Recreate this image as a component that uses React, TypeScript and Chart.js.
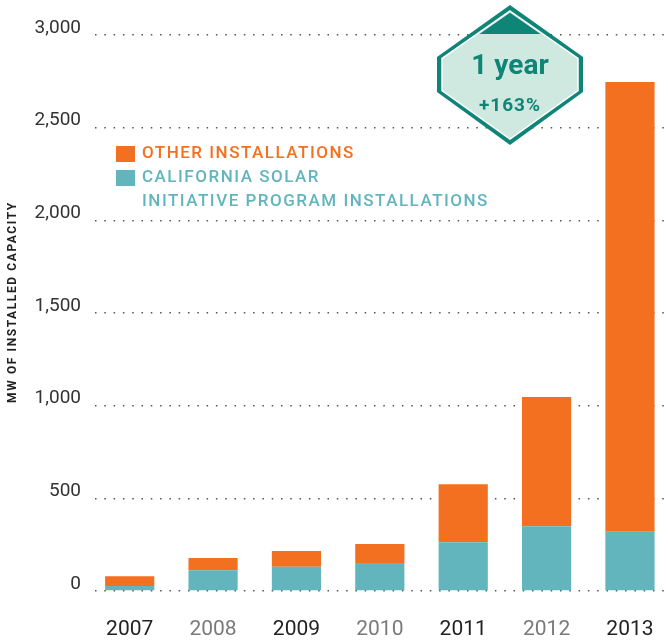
import React, { useEffect, useRef } from "react";
import { Chart, registerables } from "chart.js";

Chart.register(...registerables);

const years = ["2007", "2008", "2009", "2010", "2011", "2012", "2013"];
const csiValues = [27, 112, 131, 151, 263, 349, 320];
const otherValues = [53, 66, 85, 103, 313, 698, 2427];
const yTicks = [0, 500, 1000, 1500, 2000, 2500, 3000];
const otherLabel = ["OTHER INSTALLATIONS"];
const csiLabel = ["CALIFORNIA SOLAR", "INITIATIVE PROGRAM INSTALLATIONS"];
const yTitle = "MW OF INSTALLED CAPACITY";
const badgeTitle = "1 year";
const badgeValue = "+163%";

const ORANGE = "#f37021";
const TEAL = "#63b5bd";
const DARK_TEAL = "#0e8577";
const LIGHT_TEAL = "#cfe8e0";

const overlayPlugin = {
  id: "overlay",
  afterDraw(chart: any) {
    const ctx = chart.ctx as CanvasRenderingContext2D;
    // Y axis title
    ctx.save();
    ctx.translate(13, 302);
    ctx.rotate(-Math.PI / 2);
    ctx.font = "bold 12px Roboto";
    (ctx as any).letterSpacing = "1.6px";
    ctx.textAlign = "center";
    ctx.textBaseline = "middle";
    ctx.fillStyle = "#222";
    ctx.fillText(yTitle, 0, 0);
    ctx.restore();

    // Legend
    const ds = chart.data.datasets;
    const entries = [
      { color: ds[1].backgroundColor, lines: otherLabel, y: 146 },
      { color: ds[0].backgroundColor, lines: csiLabel, y: 170 },
    ];
    ctx.save();
    ctx.font = "500 17px Roboto";
    (ctx as any).letterSpacing = "1.5px";
    ctx.textAlign = "left";
    ctx.textBaseline = "middle";
    entries.forEach((e) => {
      ctx.fillStyle = e.color;
      ctx.fillRect(116, e.y, 19, 16);
      e.lines.forEach((line: string, i: number) => {
        ctx.fillText(line, 142, e.y + 8 + i * 24);
      });
    });
    ctx.restore();

    // Badge
    const cx = 510;
    const hex = (inset: number) => {
      const top = 5 + inset * 1.2;
      const bot = 145 - inset * 1.2;
      const l = 437 + inset;
      const r = 583 - inset;
      ctx.beginPath();
      ctx.moveTo(cx, top);
      ctx.lineTo(r, 57 + inset * 0.3);
      ctx.lineTo(r, 92 - inset * 0.3);
      ctx.lineTo(cx, bot);
      ctx.lineTo(l, 92 - inset * 0.3);
      ctx.lineTo(l, 57 + inset * 0.3);
      ctx.closePath();
    };
    ctx.save();
    hex(0);
    ctx.fillStyle = DARK_TEAL;
    ctx.fill();
    hex(5);
    ctx.fillStyle = LIGHT_TEAL;
    ctx.fill();
    ctx.save();
    hex(6.5);
    ctx.clip();
    ctx.fillStyle = DARK_TEAL;
    ctx.fillRect(430, 0, 160, 34);
    ctx.restore();
    hex(5);
    ctx.strokeStyle = "#ffffff";
    ctx.lineWidth = 1.5;
    ctx.stroke();
    ctx.fillStyle = DARK_TEAL;
    ctx.textAlign = "center";
    ctx.textBaseline = "alphabetic";
    ctx.font = "bold 28px Roboto";
    (ctx as any).letterSpacing = "0px";
    ctx.fillText(badgeTitle, cx, 74);
    ctx.font = "bold 19px Roboto";
    (ctx as any).letterSpacing = "1px";
    ctx.fillText(badgeValue, cx, 111);
    ctx.restore();
  },
};

export default function App() {
  const ref = useRef<HTMLCanvasElement | null>(null);
  useEffect(() => {
    if (!ref.current) return;
    const chart = new Chart(ref.current, {
      type: "bar",
      data: {
        labels: years,
        datasets: [
          {
            label: csiLabel.join(" "),
            data: csiValues,
            backgroundColor: TEAL,
            barPercentage: 0.59,
            categoryPercentage: 1,
          },
          {
            label: otherLabel.join(" "),
            data: otherValues,
            backgroundColor: ORANGE,
            barPercentage: 0.59,
            categoryPercentage: 1,
          },
        ],
      },
      options: {
        responsive: false,
        animation: false,
        devicePixelRatio: 1,
        layout: { padding: { left: 0, right: 6, top: 35, bottom: 0 } },
        plugins: {
          legend: { display: false },
          tooltip: { enabled: false },
        },
        scales: {
          x: {
            stacked: true,
            grid: { display: false, drawTicks: false },
            border: { display: false },
            ticks: {
              padding: 26,
              font: { family: "Roboto", size: 21, weight: "normal" },
              color: (c: any) => (c.index % 2 ? "#7a7a7a" : "#222222"),
            },
            afterFit: (s: any) => {
              s.height = 50;
            },
          },
          y: {
            stacked: true,
            min: 0,
            max: 3000,
            afterBuildTicks: (s: any) => {
              s.ticks = yTicks.map((v) => ({ value: v }));
            },
            afterFit: (s: any) => {
              s.width = 88;
            },
            grid: { drawTicks: false, color: "#555", lineWidth: 1.5 },
            border: { display: false, dash: [1.5, 7.8], dashOffset: 2.3 },
            ticks: {
              padding: 7,
              labelOffset: -7,
              font: { family: "Roboto", size: 19, weight: "normal" },
              color: "#333",
              callback: (v: any) => Number(v).toLocaleString("en-US"),
            },
          },
        },
      },
      plugins: [overlayPlugin],
    } as any);
    return () => chart.destroy();
  }, []);
  return (
    <div
      style={{
        position: "fixed",
        left: 0,
        top: 0,
        width: 668,
        height: 641,
        overflow: "hidden",
        background: "#fff",
      }}
    >
      <canvas ref={ref} width={680} height={641} style={{ display: "block", width: 680, height: 641 }} />
    </div>
  );
}
